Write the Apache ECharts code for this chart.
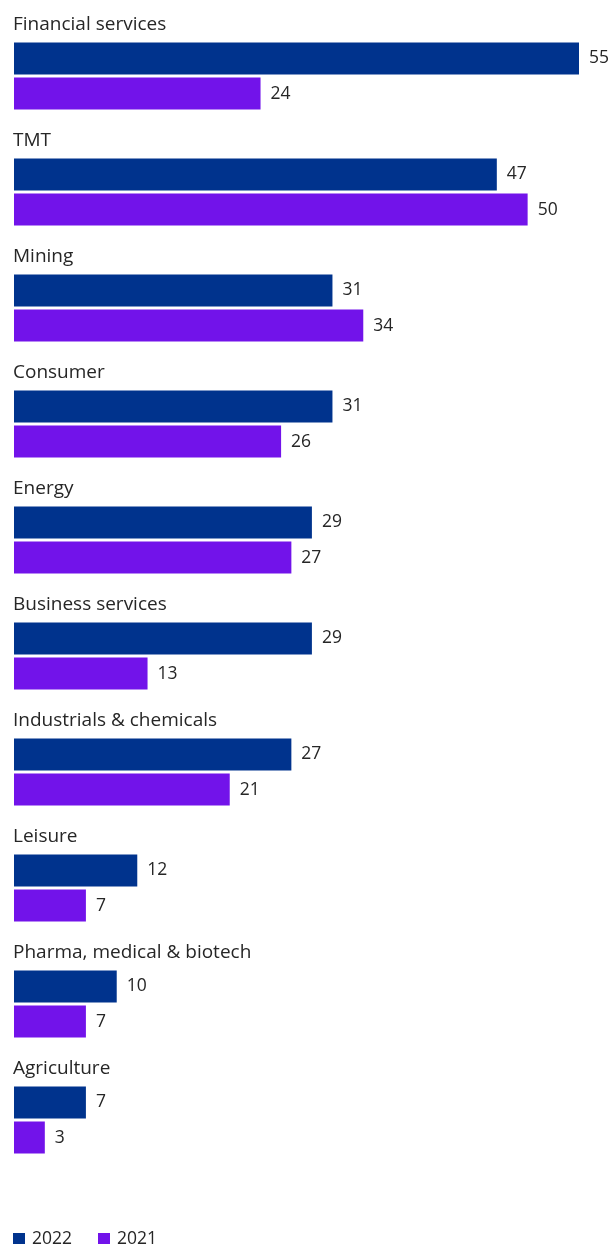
<!DOCTYPE html>
<html>
<head>
<meta charset="utf-8">
<script src="https://cdn.jsdelivr.net/npm/echarts@6/dist/echarts.min.js"></script>
<style>
html,body{margin:0;padding:0;background:#fff;}
#chart{width:611px;height:1244px;}
</style>
</head>
<body>
<div id="chart"></div>
<script>
const categories = ["Financial services","TMT","Mining","Consumer","Energy","Business services","Industrials & chemicals","Leisure","Pharma, medical & biotech","Agriculture"];
const values2022 = [55,47,31,31,29,29,27,12,10,7];
const values2021 = [24,50,34,26,27,13,21,7,7,3];
const seriesNames = ["2022","2021"];

const FONT = '"Open Sans", "Liberation Sans", Arial, sans-serif';
const TXT = '#262626';
const chart = echarts.init(document.getElementById('chart'), null, {renderer:'canvas'});
const labelStyle = {show:true, position:'right', distance:10, color:TXT, fontSize:17.5, fontFamily:FONT};
chart.setOption({
  animation:false,
  backgroundColor:'#fff',
  grid:{left:14, right:32, top:18, height:1160, containLabel:false},
  xAxis:{type:'value', min:0, max:55, show:false},
  yAxis:{
    type:'category', data:categories, inverse:true, z:10,
    axisLine:{show:false}, axisTick:{show:false}, splitLine:{show:false},
    axisLabel:{
      inside:true, margin:-1, align:'left', verticalAlign:'middle',
      formatter: v => '{t|' + v + '}\n{g| }',
      rich:{
        t:{color:TXT, fontSize:19, fontFamily:FONT, lineHeight:20},
        g:{fontSize:10, lineHeight:102}
      }
    }
  },
  legend:{
    left:13, top:1230, padding:0, icon:'rect', itemWidth:12, itemHeight:12, itemGap:26,
    textStyle:{color:TXT, fontSize:17.5, fontFamily:FONT, padding:[0,0,0,2]},
    data:seriesNames
  },
  series:[
    {name:seriesNames[0], type:'bar', data:values2022, barWidth:32, barGap:'10%', itemStyle:{color:'#00338D'}, label:labelStyle},
    {name:seriesNames[1], type:'bar', data:values2021, barWidth:32, barGap:'10%', itemStyle:{color:'#7213EA'}, label:labelStyle}
  ]
});
</script>
</body>
</html>
